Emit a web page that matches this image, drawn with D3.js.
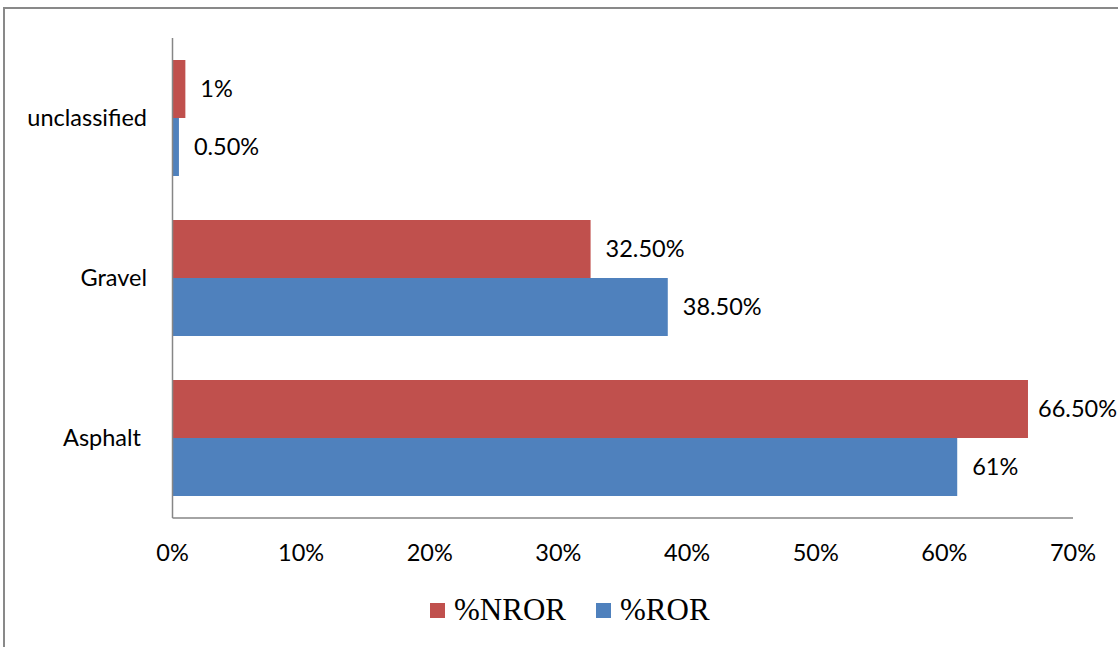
<!DOCTYPE html>
<html>
<head>
<meta charset="utf-8">
<script src="https://cdn.jsdelivr.net/npm/d3@7"></script>
<style>
  html, body { margin: 0; padding: 0; background: #fff; }
  svg { display: block; }
  .lbl { font-family: Lato, "Open Sans", sans-serif; fill: #000; }
  .leg { font-family: "Liberation Serif", "Times New Roman", serif; fill: #000; }
</style>
</head>
<body>
<svg id="chart" width="1118" height="647"></svg>
<script>
// Road surface types, top to bottom
const categories = ["unclassified", "Gravel", "Asphalt"];
// Share of non-run-off-road crashes per surface (%)
const nrorValues = [1, 32.5, 66.5];
const nrorLabels = ["1%", "32.50%", "66.50%"];
// Share of run-off-road crashes per surface (%)
const rorValues = [0.5, 38.5, 61];
const rorLabels = ["0.50%", "38.50%", "61%"];
// Axis ticks
const xTicks = [0, 10, 20, 30, 40, 50, 60, 70];
const seriesNames = ["%NROR", "%ROR"];

const colors = { "%NROR": "#C0504D", "%ROR": "#4F81BD" };
const fontSize = 23.5;
const svg = d3.select("#chart");

// Outer frame
svg.append("rect")
  .attr("x", 4).attr("y", 8)
  .attr("width", 1130).attr("height", 660)
  .attr("fill", "none").attr("stroke", "#898989").attr("stroke-width", 2);

const plot = { left: 172.5, right: 1073, top: 38, bottom: 518 };
const labelLimit = 1117;

const x = d3.scaleLinear().domain([0, 70]).range([plot.left, plot.right]);
const y = d3.scaleBand().domain(categories)
  .range([plot.top, plot.bottom])
  .paddingInner(0.275).paddingOuter(0.1375);
const ySeries = d3.scaleBand().domain(seriesNames).range([0, y.bandwidth()]);

const rows = categories.map((c, i) => ({
  cat: c,
  series: [
    { name: "%NROR", value: nrorValues[i], label: nrorLabels[i] },
    { name: "%ROR", value: rorValues[i], label: rorLabels[i] }
  ]
}));

const groups = svg.append("g").selectAll("g").data(rows).join("g")
  .attr("transform", d => `translate(0,${y(d.cat)})`);

groups.selectAll("rect").data(d => d.series).join("rect")
  .attr("x", x(0))
  .attr("y", d => ySeries(d.name))
  .attr("width", d => x(d.value) - x(0))
  .attr("height", ySeries.bandwidth())
  .attr("fill", d => colors[d.name]);

// Value labels, kept inside the chart's right edge
groups.selectAll("text").data(d => d.series).join("text")
  .attr("class", "lbl")
  .attr("y", d => ySeries(d.name) + ySeries.bandwidth() / 2)
  .attr("dy", "0.35em")
  .attr("font-size", fontSize)
  .text(d => d.label)
  .each(function (d) {
    const w = this.getComputedTextLength();
    const pos = Math.min(x(d.value) + 15, labelLimit - w);
    d3.select(this).attr("x", pos);
  });

// Axes lines
svg.append("line")
  .attr("x1", plot.left).attr("x2", plot.left)
  .attr("y1", plot.top).attr("y2", plot.bottom)
  .attr("stroke", "#868686").attr("stroke-width", 1.5);
svg.append("line")
  .attr("x1", plot.left).attr("x2", plot.right)
  .attr("y1", plot.bottom).attr("y2", plot.bottom)
  .attr("stroke", "#868686").attr("stroke-width", 1.5);

// X tick labels
svg.append("g").selectAll("text").data(xTicks).join("text")
  .attr("class", "lbl")
  .attr("x", d => x(d))
  .attr("y", 561)
  .attr("text-anchor", "middle")
  .attr("font-size", fontSize)
  .text(d => d + "%");

// Category labels
svg.append("g").selectAll("text").data(categories).join("text")
  .attr("class", "lbl")
  .attr("x", d => d === "Asphalt" ? 141 : 147)
  .attr("y", d => y(d) + y.bandwidth() / 2)
  .attr("dy", "0.35em")
  .attr("text-anchor", "end")
  .attr("font-size", fontSize)
  .text(d => d);

// Legend
const legend = svg.append("g");
const legX = [430, 596];
seriesNames.forEach((s, i) => {
  legend.append("rect")
    .attr("x", legX[i]).attr("y", 603)
    .attr("width", 15).attr("height", 15)
    .attr("fill", colors[s]);
  legend.append("text")
    .attr("class", "leg")
    .attr("x", legX[i] + 24).attr("y", 620)
    .attr("font-size", 31)
    .text(s);
});
</script>
</body>
</html>
